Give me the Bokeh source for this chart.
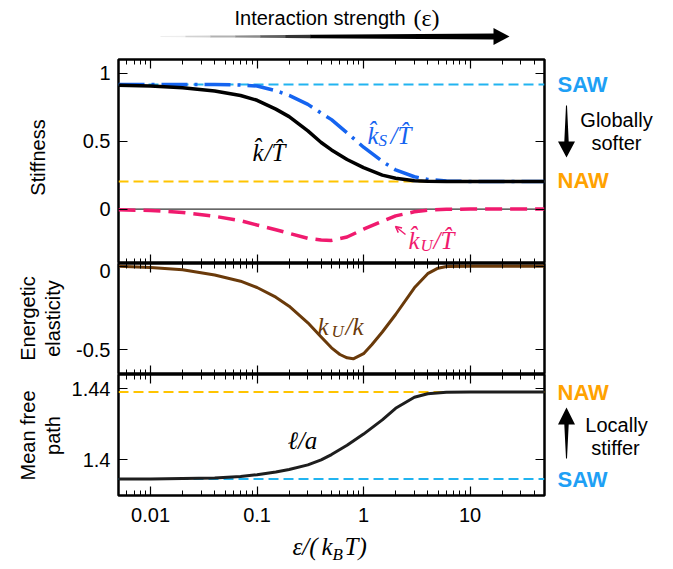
import math
from bokeh.plotting import figure
from bokeh.models import (Range1d, LogAxis, LinearAxis, FixedTicker, PrintfTickFormatter,
                          Label, Arrow, OpenHead, PolyAnnotation, Span)
from bokeh.layouts import column, row
from bokeh.embed import file_html
from bokeh.resources import INLINE

# ---------------- data ----------------
eps = [0.005, 0.01, 0.02, 0.04, 0.07, 0.1, 0.15, 0.2, 0.3, 0.4, 0.5, 0.7,
       1.0, 1.5, 2.0, 3.0, 4.0, 6.0, 10.0, 20.0, 50.0]
k_hat = [0.910, 0.905, 0.893, 0.868, 0.835, 0.800, 0.735, 0.680, 0.575, 0.490, 0.435, 0.365,
         0.305, 0.250, 0.227, 0.208, 0.204, 0.203, 0.203, 0.203, 0.203]
kS_hat = [0.917, 0.917, 0.917, 0.916, 0.912, 0.905, 0.871, 0.836, 0.770, 0.706, 0.658, 0.561,
          0.455, 0.351, 0.288, 0.238, 0.218, 0.207, 0.203, 0.203, 0.203]
kU_hat = [-0.005, -0.010, -0.025, -0.053, -0.085, -0.117, -0.152, -0.178, -0.215, -0.228, -0.230, -0.205,
          -0.148, -0.090, -0.050, -0.020, -0.008, -0.002, 0.0, 0.0, 0.0]

eps_e = [0.005, 0.01, 0.02, 0.04, 0.07, 0.1, 0.15, 0.2, 0.3, 0.4, 0.5, 0.6, 0.7, 0.8,
         1.0, 1.2, 1.5, 2.0, 3.0, 4.0, 5.0, 6.0, 10.0, 20.0, 50.0]
kU_over_k = [0.0, -0.008, -0.022, -0.053, -0.090, -0.128, -0.186, -0.240, -0.340, -0.425, -0.490, -0.530,
             -0.550, -0.556, -0.525, -0.470, -0.395, -0.290, -0.130, -0.045, -0.012, -0.002, 0.0, 0.0, 0.0]

ell_over_a = [1.3893, 1.3893, 1.3895, 1.3899, 1.3907, 1.3917, 1.3932, 1.3946, 1.3972, 1.4000, 1.4030, 1.4082,
              1.4145, 1.4225, 1.4290, 1.4352, 1.4372, 1.4380, 1.4382, 1.4382, 1.4382]

SAW_k, NAW_k = 0.917, 0.203
SAW_l, NAW_l = 1.3893, 1.4382

x_ticks = [0.01, 0.1, 1, 10]
x_minor = [m * d for d in (0.001, 0.01, 0.1, 1, 10) for m in range(2, 10) if 0.0049 <= m * d <= 50.1]
y_ticks_top = [0, 0.5, 1]
y_ticks_mid = [-0.5, 0]
y_ticks_bot = [1.4, 1.44]

# ---------------- styling ----------------
SANS = "Liberation Sans"
SERIF = "Liberation Serif"
SAW_LINE, SAW_TXT = "#22B4F0", "#1EA0F5"
NAW_LINE, NAW_TXT = "#FFC400", "#FFA200"
BLUE = "#1564F0"
PINK = "#F01A6E"
BROWN = "#6A3A0A"

LW = 68           # width of the left label strip
FL = 118          # frame left (page px)
FW = 426          # frame width
FR = FL + FW      # 544
RX = FR + 2       # right strip starts
RW = 119          # right strip width
TOTAL_W = RX + RW


def sty(ax, labels, standoff):
    ax.axis_line_color = None
    ax.major_tick_in = 9
    ax.major_tick_out = 0
    ax.minor_tick_in = 5
    ax.minor_tick_out = 0
    ax.major_tick_line_color = "black"
    ax.major_tick_line_width = 1.2
    ax.minor_tick_line_color = "black"
    ax.minor_tick_line_width = 1
    if labels:
        ax.major_label_text_font = SANS
        ax.major_label_text_font_size = "20px"
        ax.major_label_text_color = "black"
        ax.major_label_standoff = standoff
    else:
        ax.major_label_text_font_size = "0px"
        ax.major_label_text_color = None
        ax.major_label_standoff = 0


def panel(fh, yr, yt, top, bottom, xlabels):
    p = figure(frame_width=FW, frame_height=fh, x_axis_type="log", x_axis_location=None,
               y_axis_location=None, x_range=Range1d(0.005, 50), y_range=Range1d(*yr),
               output_backend="svg", toolbar_location=None,
               min_border_left=FL - LW, min_border_right=2, min_border_top=top, min_border_bottom=bottom)
    p.outline_line_color = "black"
    p.outline_line_width = 2.5
    p.background_fill_color = "white"
    p.border_fill_color = "white"
    p.grid.visible = False
    for loc in ("below", "above"):
        ax = LogAxis(ticker=FixedTicker(ticks=x_ticks, minor_ticks=x_minor),
                     formatter=PrintfTickFormatter(format="%g"))
        sty(ax, loc == "below" and xlabels, 12)
        p.add_layout(ax, loc)
    for loc in ("left", "right"):
        ax = LinearAxis(ticker=FixedTicker(ticks=yt), formatter=PrintfTickFormatter(format="%g"))
        sty(ax, loc == "left", 8)
        p.add_layout(ax, loc)
    return p


def aux(w, h):
    f = figure(width=w, height=h, x_range=Range1d(0, 1), y_range=Range1d(0, 1),
               output_backend="svg", toolbar_location=None, min_border=0,
               x_axis_location=None, y_axis_location=None)
    f.outline_line_color = None
    f.background_fill_color = "white"
    f.border_fill_color = "white"
    f.grid.visible = False
    return f


def txt(p, ox, fb, px, py, s, size, color="black", font=SANS, style="normal", align="left",
        baseline="alphabetic", angle=0.0):
    p.add_layout(Label(x=px - ox, y=fb - py, x_units="screen", y_units="screen", text=s,
                       text_font=font, text_font_size=f"{size}px", text_color=color,
                       text_font_style=style, text_align=align, text_baseline=baseline, angle=angle))


def poly(p, ox, fb, pts, color):
    p.add_layout(PolyAnnotation(xs=[x - ox for x, y in pts], ys=[fb - y for x, y in pts],
                                xs_units="screen", ys_units="screen", fill_color=color, fill_alpha=1.0,
                                line_color=None, level="overlay"))


ROT = math.pi / 2

# ---------------- header ----------------
HB = 57
hdr = aux(TOTAL_W, HB)
txt(hdr, 0, HB, 234, 17, "Interaction strength", 20, baseline="middle")
txt(hdr, 0, HB, 413, 17, "(\u03b5)", 24, font=SERIF, baseline="middle")
seg_x = [160, 185, 210, 235, 260, 285, 310, 494]
seg_c = ["#ededed", "#d2d2d2", "#b2b2b2", "#8c8c8c", "#606060", "#333333", "#000000"]
hw = lambda x: 0.5 + 2.6 * (x - 160) / 334.0
for i in range(len(seg_c)):
    a, b = seg_x[i], seg_x[i + 1] + (0.6 if i < len(seg_c) - 1 else 0)
    poly(hdr, 0, HB, [(a, 36 - hw(a)), (b, 36 - hw(b)), (b, 36 + hw(b)), (a, 36 + hw(a))], seg_c[i])
poly(hdr, 0, HB, [(493, 27.5), (509, 36), (493, 44.5)], "#000000")

# ---------------- top panel: stiffness ----------------
FB1 = 263
p1 = panel(204, (-0.4, 1.1), y_ticks_top, 2, 0, False)
p1.add_layout(Span(location=SAW_k, dimension="width", line_color=SAW_LINE, line_width=2,
                   line_dash="10 5", level="underlay"))
p1.add_layout(Span(location=NAW_k, dimension="width", line_color=NAW_LINE, line_width=2,
                   line_dash="10 5", level="underlay"))
p1.add_layout(Span(location=0, dimension="width", line_color="black", line_width=1, level="underlay"))
p1.line(eps, kS_hat, line_color=BLUE, line_width=3.5, line_dash="26 7 3 7")
p1.line(eps, k_hat, line_color="black", line_width=3.5, line_join="round")
p1.line(eps, kU_hat, line_color=PINK, line_width=3.5, line_dash="17 8")

txt(p1, FL, FB1, 252, 152, "k\u0302", 25, "black", SERIF, "italic")
txt(p1, FL, FB1, 264, 152, "/T\u0302", 25, "black", SERIF, "italic")
txt(p1, FL, FB1, 367, 135, "k\u0302", 25, BLUE, SERIF, "italic")
txt(p1, FL, FB1, 378, 140, "S", 17, BLUE, SERIF, "italic")
txt(p1, FL, FB1, 390, 135, "/T\u0302", 25, BLUE, SERIF, "italic")
txt(p1, FL, FB1, 408, 240, "k\u0302", 25, PINK, SERIF, "italic")
txt(p1, FL, FB1, 420, 245, "U", 17, PINK, SERIF, "italic")
txt(p1, FL, FB1, 433, 240, "/T\u0302", 25, PINK, SERIF, "italic")
p1.add_layout(Arrow(end=OpenHead(size=6, line_color=PINK, line_width=1.5),
                    x_start=405 - FL, y_start=FB1 - 234, x_end=395 - FL, y_end=FB1 - 226,
                    start_units="screen", end_units="screen", line_color=PINK, line_width=1.5))

l1 = aux(LW, 206)
txt(l1, 0, FB1, 37, 157, "Stiffness", 20, align="center", baseline="middle", angle=ROT)

r1 = aux(RW, 206)
txt(r1, RX, FB1, 557, 84, "SAW", 22, SAW_TXT, style="bold", baseline="middle")
txt(r1, RX, FB1, 557, 180, "NAW", 22, NAW_TXT, style="bold", baseline="middle")
poly(r1, RX, FB1, [(565.5, 105), (566.5, 105), (568.2, 141), (574.5, 141), (566, 157),
                   (557.5, 141), (563.8, 141)], "#000000")
txt(r1, RX, FB1, 616, 119, "Globally", 20, align="center", baseline="middle")
txt(r1, RX, FB1, 616, 142, "softer", 20, align="center", baseline="middle")

# ---------------- middle panel: energetic elasticity ----------------
FB2 = 374
p2 = panel(111, (-0.65, 0.016), y_ticks_mid, 0, 0, False)
p2.line(eps_e, kU_over_k, line_color=BROWN, line_width=3, line_join="round")
txt(p2, FL, FB2, 317, 326, "k", 25, BROWN, SERIF, "italic")
txt(p2, FL, FB2, 331, 331, "U", 17, BROWN, SERIF, "italic")
txt(p2, FL, FB2, 345, 326, "/k", 25, BROWN, SERIF, "italic")

l2 = aux(LW, 111)
txt(l2, 0, FB2, 27, 318, "Energetic", 20, align="center", baseline="middle", angle=ROT)
txt(l2, 0, FB2, 52, 318, "elasticity", 20, align="center", baseline="middle", angle=ROT)
r2 = aux(RW, 111)

# ---------------- bottom panel: mean free path ----------------
FB3 = 495
BB = 30
p3 = panel(121, (1.38, 1.448), y_ticks_bot, 0, BB, True)
p3.add_layout(Span(location=NAW_l, dimension="width", line_color=NAW_LINE, line_width=2,
                   line_dash="10 5", level="underlay"))
p3.add_layout(Span(location=SAW_l, dimension="width", line_color=SAW_LINE, line_width=2,
                   line_dash="10 5", level="underlay"))
p3.line(eps, ell_over_a, line_color="#1e1e1e", line_width=3, line_join="round")
txt(p3, FL, FB3, 287, 440, "\u2113/a", 25, "black", SERIF, "italic")

# side strips: their frames are aligned with the panel frame (374..495)
l3 = aux(LW, 121 + BB)
txt(l3, 0, FB3, 27, 435, "Mean free", 20, align="center", baseline="middle", angle=ROT)
txt(l3, 0, FB3, 52, 435, "path", 20, align="center", baseline="middle", angle=ROT)

r3 = aux(RW, 121 + BB)
txt(r3, RX, FB3, 557, 392, "NAW", 22, NAW_TXT, style="bold", baseline="middle")
txt(r3, RX, FB3, 557, 479, "SAW", 22, SAW_TXT, style="bold", baseline="middle")
poly(r3, RX, FB3, [(566, 407), (574.5, 424), (568.2, 424), (566.5, 458), (565.5, 458),
                   (563.8, 424), (557.5, 424)], "#000000")
txt(r3, RX, FB3, 616, 424, "Locally", 20, align="center", baseline="middle")
txt(r3, RX, FB3, 615, 447, "stiffer", 20, align="center", baseline="middle")

# ---------------- footer: x label ----------------
FH = 42
FTB = FB3 + BB + FH
ftr = aux(TOTAL_W, FH)
txt(ftr, 0, FTB, 292, 546, "\u03b5/(", 25, "black", SERIF, "italic", baseline="middle")
txt(ftr, 0, FTB, 321, 546, "k", 25, "black", SERIF, "italic", baseline="middle")
txt(ftr, 0, FTB, 332, 554, "B", 17, "black", SERIF, "italic", baseline="middle")
txt(ftr, 0, FTB, 344, 546, "T)", 25, "black", SERIF, "italic", baseline="middle")

layout = column(hdr, row(l1, p1, r1), row(l2, p2, r2), row(l3, p3, r3), ftr)
open("out.html", "w").write(file_html(layout, INLINE))
